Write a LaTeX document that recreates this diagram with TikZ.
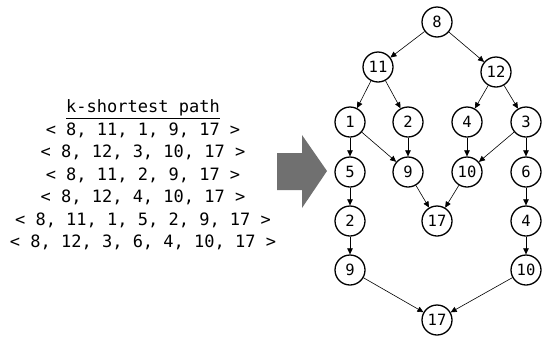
\documentclass[tikz,border=0pt]{standalone}
\usepackage{fontspec}
\newfontfamily\monofont{DejaVu Sans Mono}
\usetikzlibrary{arrows.meta}
\definecolor{arrowgray}{RGB}{112,112,112}
\begin{document}
\begin{tikzpicture}[x=1pt,y=-1pt,
  vtx/.style={circle,draw,line width=1.3pt,minimum size=30pt,inner sep=0pt,font=\monofont\fontsize{15.5}{18}\selectfont},
  edge/.style={line width=0.6pt,-{Triangle[length=6pt,width=5.5pt]}},
  pathtext/.style={align=center,font=\monofont\fontsize{17}{22.5}\selectfont}]
\useasboundingbox (0,0) rectangle (546,338);
% text
\node[pathtext] (paths) at (143,175) {\underline{k-shortest path}\\
< 8, 11, 1, 9, 17 >\\
< 8, 12, 3, 10, 17 >\\
< 8, 11, 2, 9, 17 >\\
< 8, 12, 4, 10, 17 >\\
< 8, 11, 1, 5, 2, 9, 17 >\\
< 8, 12, 3, 6, 4, 10, 17 >};
% block arrow
\fill[arrowgray] (277,153) -- (302,153) -- (302,135) -- (327,171) -- (302,208) -- (302,190) -- (277,190) -- cycle;
% nodes
\node[vtx] (n8) at (437,22) {8};
\node[vtx] (n11) at (378,67) {11};
\node[vtx] (n12) at (496,72) {12};
\node[vtx] (n1) at (350,122) {1};
\node[vtx] (n2) at (408,122) {2};
\node[vtx] (n4) at (467,122) {4};
\node[vtx] (n3) at (526,122) {3};
\node[vtx] (n5) at (350,172) {5};
\node[vtx] (n9) at (408,172) {9};
\node[vtx] (n10) at (467,172) {10};
\node[vtx] (n6) at (526,172) {6};
\node[vtx] (n17a) at (437,221) {17};
\node[vtx] (n2b) at (350,221) {2};
\node[vtx] (n4b) at (526,221) {4};
\node[vtx] (n9b) at (350,270) {9};
\node[vtx] (n10b) at (526,270) {10};
\node[vtx] (n17b) at (437,320) {17};
% edges
\draw[edge] (n8) -- (n11);
\draw[edge] (n8) -- (n12);
\draw[edge] (n11) -- (n1);
\draw[edge] (n11) -- (n2);
\draw[edge] (n12) -- (n4);
\draw[edge] (n12) -- (n3);
\draw[edge] (n1) -- (n5);
\draw[edge] (n1) -- (n9);
\draw[edge] (n2) -- (n9);
\draw[edge] (n4) -- (n10);
\draw[edge] (n3) -- (n10);
\draw[edge] (n3) -- (n6);
\draw[edge] (n5) -- (n2b);
\draw[edge] (n9) -- (n17a);
\draw[edge] (n10) -- (n17a);
\draw[edge] (n6) -- (n4b);
\draw[edge] (n2b) -- (n9b);
\draw[edge] (n4b) -- (n10b);
\draw[edge] (n9b) -- (n17b);
\draw[edge] (n10b) -- (n17b);
\end{tikzpicture}
\end{document}
